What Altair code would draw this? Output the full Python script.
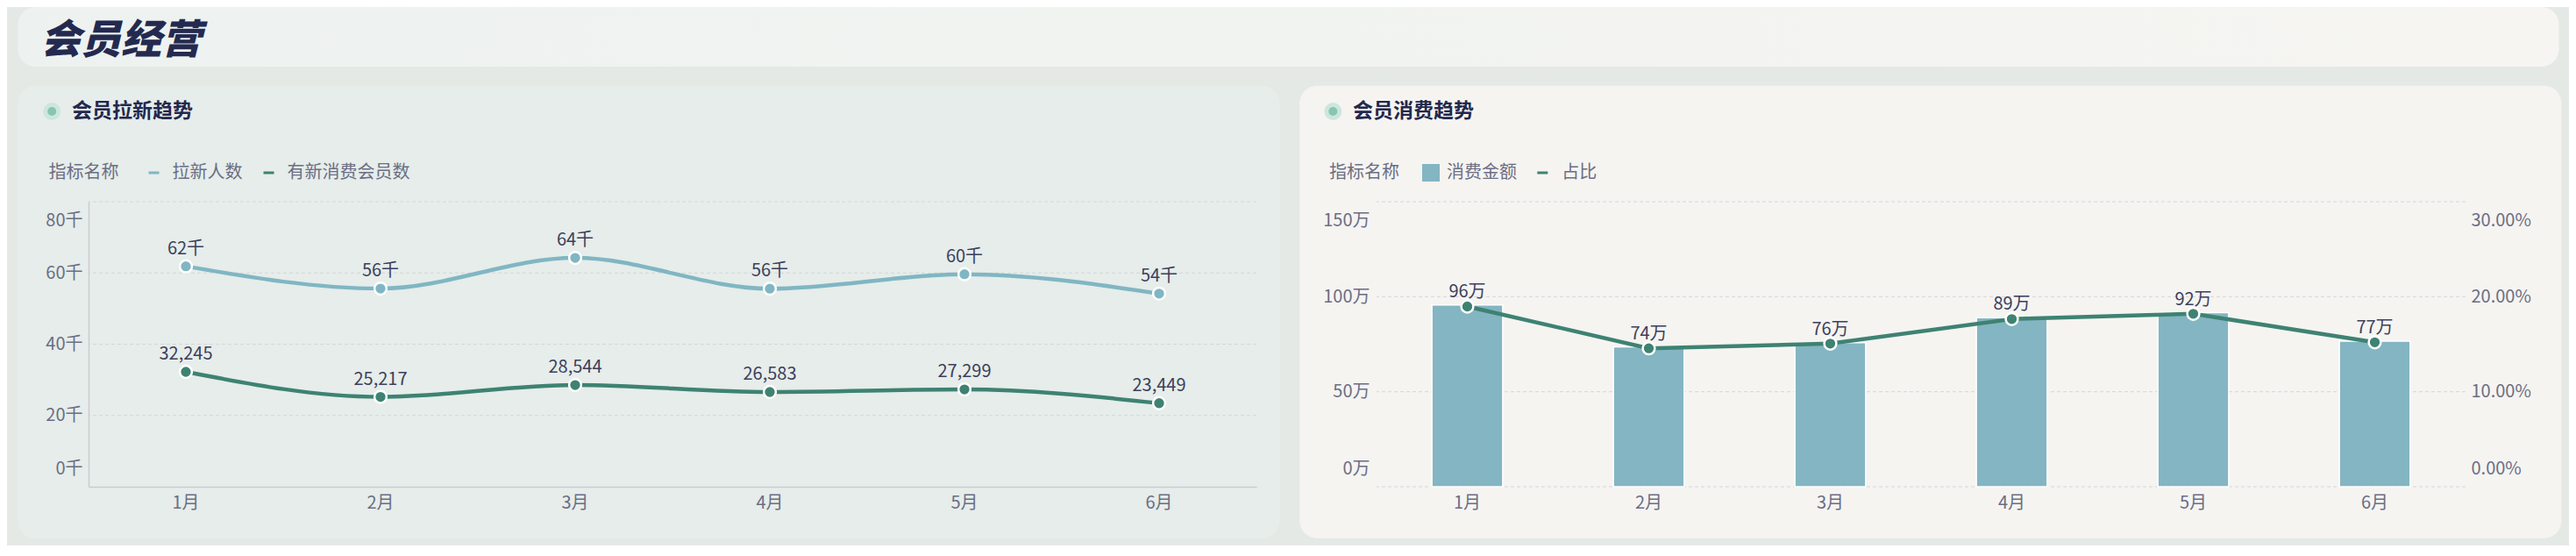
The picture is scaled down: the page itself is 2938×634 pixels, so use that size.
import altair as alt
import pandas as pd

# ---------------- data ----------------
main_title = "会员经营"
left_title = "会员拉新趋势"
right_title = "会员消费趋势"
legend_title = "指标名称"
months = ["1月", "2月", "3月", "4月", "5月", "6月"]
left_series = ["拉新人数", "有新消费会员数"]
new_members = [61870, 55620, 64230, 55580, 59640, 54210]
new_consuming = [32245, 25217, 28544, 26583, 27299, 23449]
right_series = ["消费金额", "占比"]
spend_amount = [956000, 736000, 758000, 890000, 916000, 766000]
spend_ratio = [0.1897, 0.1457, 0.1506, 0.1765, 0.1820, 0.1520]
left_ticks = [0, 20000, 40000, 60000, 80000]
amount_ticks = [0, 500000, 1000000, 1500000]
ratio_ticks = [0, 0.1, 0.2, 0.3]

# ---------------- style ----------------
FONT = "Noto Sans CJK SC"
C_LIGHT = "#80b6c3"
C_DARK = "#3e8272"
C_BAR = "#84b5c2"
TXT = "#3d405c"
AX = "#6b6e84"
NAVY = "#23284d"
GRID = "#d3d6db"
DOMAIN = "#c9cdd3"

LW, LH = 1332, 325
RW, RH = 1242, 325

df_left = pd.DataFrame({
    "month": months * 2,
    "value": new_members + new_consuming,
    "series": [left_series[0]] * 6 + [left_series[1]] * 6,
})
df_right = pd.DataFrame({"month": months, "amount": spend_amount, "ratio": spend_ratio})


def one(text):
    return pd.DataFrame({"t": [text]})


def card(x0, x1, y0, y1, fill):
    return alt.Chart(one("")).mark_rect(cornerRadius=20, color=fill).encode(
        x=alt.value(x0), x2=alt.value(x1), y=alt.value(y0), y2=alt.value(y1),
    )


def panel_title(text, tx, dotx, ty):
    halo = alt.Chart(one("")).mark_point(filled=True, size=400, color="#cde6de", opacity=1).encode(
        x=alt.value(dotx), y=alt.value(ty))
    dot = alt.Chart(one("")).mark_point(filled=True, size=100, color="#86c6b3", opacity=1).encode(
        x=alt.value(dotx), y=alt.value(ty))
    txt = alt.Chart(one(text)).mark_text(
        align="left", baseline="middle", font=FONT, fontSize=23, fontWeight="bold", color=NAVY
    ).encode(x=alt.value(tx), y=alt.value(ty), text="t:N")
    return [halo, dot, txt]


band = alt.Scale(type="band", paddingInner=0, paddingOuter=0)
legend_common = dict(
    orient="none", direction="horizontal", titleOrient="left", titleFontSize=20,
    titleFontWeight="normal", titleColor=AX, titleFont=FONT, labelFontSize=20, labelColor=AX,
    labelFont=FONT, zindex=2,
)
label_style = dict(labelFontSize=20, labelColor=AX, labelFont=FONT, zindex=2)

# ---------------- left panel ----------------
yl_scale = alt.Scale(domain=[0, 80000])
xl = alt.X("month:N", sort=months, scale=band, title=None,
           axis=alt.Axis(labelAngle=0, ticks=False, domain=True, domainColor=DOMAIN, domainWidth=1.5,
                         grid=False, labelPadding=8, **label_style))
yl_axis = alt.Axis(values=left_ticks, labelExpr="datum.value / 1000 + '千'", ticks=False, domain=True,
                   domainColor=DOMAIN, domainWidth=1.5, grid=False, labelPadding=7,
                   labelFlush=True, labelFlushOffset=-11, **label_style)
left_legend = alt.Legend(
    legendX=-45.5, legendY=-43, title=legend_title, titlePadding=30, symbolType="stroke",
    symbolSize=144, symbolStrokeWidth=3, labelOffset=11, columnPadding=18, **legend_common,
)
cl = alt.Color("series:N", sort=left_series,
               scale=alt.Scale(domain=left_series, range=[C_LIGHT, C_DARK]), legend=left_legend)

l_grid = alt.Chart(pd.DataFrame({"tick": left_ticks[1:]})).mark_rule(
    strokeDash=[4, 3], color=GRID, strokeWidth=1
).encode(y=alt.Y("tick:Q", scale=yl_scale, title=None, axis=yl_axis))
base_l = alt.Chart(df_left).encode(
    x=xl, y=alt.Y("value:Q", scale=yl_scale, title=None, axis=yl_axis), color=cl)
l_line = base_l.mark_line(interpolate="monotone", strokeWidth=4.5)
l_pts = base_l.mark_point(filled=True, size=190, stroke="white", strokeWidth=2.5, opacity=1)
l_txt = alt.Chart(df_left).transform_calculate(
    label="datum.series == '拉新人数' ? round(datum.value / 1000) + '千' : format(datum.value, ',')"
).mark_text(dy=-20, baseline="middle", fontSize=20, font=FONT, color=TXT).encode(
    x=xl, y=alt.Y("value:Q", scale=yl_scale, title=None, axis=yl_axis), text="label:N")

left = alt.layer(
    card(-80.5, LW + 26.5, -132, LH + 59, "#e6edea"),
    *panel_title(left_title, -19, -41.8, -103),
    l_grid, l_line, l_pts, l_txt,
).properties(width=LW, height=LH)

# ---------------- right panel ----------------
xr = alt.X("month:N", sort=months, scale=band, title=None,
           axis=alt.Axis(labelAngle=0, ticks=False, domain=False, grid=False, labelPadding=8,
                         **label_style))
bar_legend = alt.Legend(
    legendX=-54, legendY=-43, title=legend_title, titlePadding=26, symbolType="square",
    symbolSize=400, symbolStrokeWidth=0, labelOffset=8, **legend_common,
)
line_legend = alt.Legend(
    legendX=179.3, legendY=-43, title=None, symbolType="stroke", symbolSize=144,
    symbolStrokeWidth=3, labelOffset=12, **legend_common,
)
fill_bar = alt.Fill("series:N", scale=alt.Scale(domain=[right_series[0]], range=[C_BAR]), legend=bar_legend)
stroke_line = alt.Stroke("series:N", scale=alt.Scale(domain=[right_series[1]], range=[C_DARK]),
                         legend=line_legend)

ya_axis = alt.Axis(orient="left", values=amount_ticks, labelExpr="datum.value / 10000 + '万'", ticks=False,
                   domain=False, grid=False, labelPadding=8, labelFlush=True, labelFlushOffset=-11,
                   **label_style)
yr_axis = alt.Axis(orient="right", values=ratio_ticks, format=".2%", ticks=False, domain=False, grid=False,
                   labelPadding=6, labelFlush=True, labelFlushOffset=-11, **label_style)
amount_scale = alt.Scale(domain=[0, 1500000])
ratio_scale = alt.Scale(domain=[0, 0.3])

r_grid = alt.Chart(pd.DataFrame({"tick": amount_ticks})).mark_rule(
    strokeDash=[4, 3], color=GRID, strokeWidth=1
).encode(y=alt.Y("tick:Q", scale=amount_scale, axis=None))
r_bar = alt.Chart(df_right).transform_calculate(series="'消费金额'").mark_bar(
    width=alt.RelativeBandSize(0.39), stroke="white", strokeWidth=1.5
).encode(x=xr, y=alt.Y("amount:Q", scale=amount_scale, title=None, axis=ya_axis), fill=fill_bar)
r_line = alt.Chart(df_right).transform_calculate(series="'占比'").mark_line(strokeWidth=4.5).encode(
    x=xr, y=alt.Y("ratio:Q", scale=ratio_scale, title=None, axis=yr_axis), stroke=stroke_line)
r_pts = alt.Chart(df_right).mark_point(
    filled=True, size=190, fill=C_DARK, stroke="white", strokeWidth=2.5, opacity=1
).encode(x=xr, y=alt.Y("ratio:Q", scale=ratio_scale, axis=None))
r_txt = alt.Chart(df_right).transform_calculate(
    label="round(datum.amount / 10000) + '万'"
).mark_text(dy=-15, baseline="middle", fontSize=20, font=FONT, color=TXT).encode(
    x=xr, y=alt.Y("amount:Q", scale=amount_scale, axis=None), text="label:N")

right = alt.layer(
    card(-87.7, RW + 109.3, -132.3, RH + 58.7, "#f5f4f1"),
    *panel_title(right_title, -27, -49.7, -103),
    r_grid, r_bar, r_line, r_pts, r_txt,
).resolve_scale(y="independent").properties(width=RW, height=RH)

# ---------------- header ----------------
header_grad = alt.Gradient(
    gradient="linear", x1=0, x2=1, y1=0, y2=0,
    stops=[alt.GradientStop(color="#edf2f0", offset=0), alt.GradientStop(color="#f6f5f2", offset=1)],
)
header = alt.layer(
    alt.Chart(one("")).mark_rect(cornerRadius=20, color=header_grad).encode(
        x=alt.value(-80.5), x2=alt.value(2817.5), y=alt.value(0), y2=alt.value(68)),
    alt.Chart(one(main_title)).mark_text(
        align="left", baseline="middle", font=FONT, fontSize=46, fontWeight=900,
        fontStyle="italic", color="#242a4f").encode(x=alt.value(-55), y=alt.value(39), text="t:N"),
).properties(width=10, height=68)

ind = dict(color="independent", fill="independent", stroke="independent")
row = alt.hconcat(left, right, spacing=22).resolve_scale(**ind).resolve_legend(**ind)
chart = alt.vconcat(header, row, spacing=21).resolve_scale(**ind).resolve_legend(**ind).properties(
    padding={"left": 12, "top": 0, "right": 8, "bottom": 8},
    background="#e5e9e6",
).configure_view(stroke=None).configure_legend(padding=0)

chart.save("out.html", embed_options={"renderer": "svg", "actions": False})
